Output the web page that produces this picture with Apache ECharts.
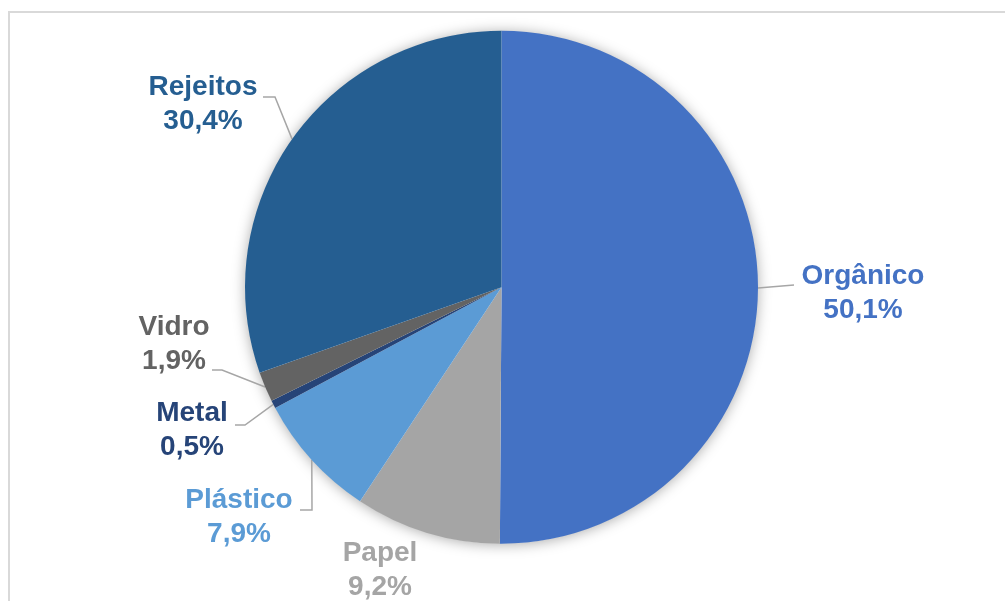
<!DOCTYPE html>
<html>
<head>
<meta charset="utf-8">
<script src="https://cdn.jsdelivr.net/npm/echarts@6/dist/echarts.min.js"></script>
<style>
  html, body { margin: 0; padding: 0; background: #fff; }
  #chart { width: 1005px; height: 601px; }
</style>
</head>
<body>
<div id="chart"></div>
<script>
// Composição dos resíduos (%)
const categories = ['Orgânico', 'Papel', 'Plástico', 'Metal', 'Vidro', 'Rejeitos'];
const shares = [50.1, 9.2, 7.9, 0.5, 1.9, 30.4];
const colors = ['#4472C4', '#A5A5A5', '#5B9BD5', '#264478', '#636363', '#255E91'];

// Where each two-line label sits (centre of the text block) and the
// guide-line waypoints running from the slice edge out to the label.
const labelPlacement = {
  'Orgânico': { x: 863, y: 293, guide: [[794, 285]] },
  'Papel':    { x: 380, y: 570, guide: null },
  'Plástico': { x: 239, y: 517, guide: [[312, 510], [300, 510]] },
  'Metal':    { x: 192, y: 430, guide: [[245, 425], [235, 425]] },
  'Vidro':    { x: 174, y: 344, guide: [[222, 370], [212, 370]] },
  'Rejeitos': { x: 203, y: 104, guide: [[275, 97], [263, 97]] }
};

const PIE_CENTER = [501.5, 287.3];
const PIE_RADIUS = 256.5;
const FONT = '"Liberation Sans", Arial, Helvetica, sans-serif';

function pct(v) {
  return v.toFixed(1).replace('.', ',') + '%';
}

const pieData = categories.map(function (name, i) {
  return {
    name: name,
    value: shares[i],
    itemStyle: { color: colors[i] },
    label: { color: colors[i] },
    labelLine: { show: labelPlacement[name].guide !== null }
  };
});

const chart = echarts.init(document.getElementById('chart'), null, { renderer: 'canvas' });

chart.setOption({
  backgroundColor: '#ffffff',
  animation: false,
  graphic: [{
    type: 'rect',
    silent: true,
    z: -10,
    shape: { x: 9, y: 12, width: 1010, height: 600 },
    style: { fill: 'none', stroke: '#d9d9d9', lineWidth: 2 }
  }],
  series: [
    {
      // soft drop shadow under the whole disc
      type: 'pie',
      silent: true,
      z: 1,
      center: PIE_CENTER,
      radius: PIE_RADIUS - 0.5,
      startAngle: 90,
      label: { show: false },
      labelLine: { show: false },
      itemStyle: {
        color: '#ffffff',
        shadowBlur: 14,
        shadowColor: 'rgba(0,0,0,0.35)',
        shadowOffsetY: 1
      },
      emphasis: { disabled: true },
      data: [{ value: 1, name: '' }]
    },
    {
      type: 'pie',
      z: 2,
      center: PIE_CENTER,
      radius: PIE_RADIUS,
      startAngle: 90,
      clockwise: true,
      avoidLabelOverlap: false,
      itemStyle: { borderWidth: 0 },
      emphasis: { disabled: true },
      label: {
        show: true,
        position: 'outside',
        fontFamily: FONT,
        fontWeight: 'bold',
        fontSize: 28,
        lineHeight: 34,
        align: 'center',
        formatter: function (p) {
          return p.name + '\n' + pct(p.value);
        }
      },
      labelLine: {
        show: true,
        length: 10,
        length2: 10,
        smooth: false,
        lineStyle: { color: '#A6A6A6', width: 1.5 }
      },
      labelLayout: function (p) {
        const place = labelPlacement[categories[p.dataIndex]];
        const out = { x: place.x, y: place.y, align: 'center', verticalAlign: 'middle' };
        if (place.guide && p.labelLinePoints) {
          out.labelLinePoints = [p.labelLinePoints[0]].concat(place.guide);
        }
        return out;
      },
      data: pieData
    }
  ]
});
</script>
</body>
</html>
